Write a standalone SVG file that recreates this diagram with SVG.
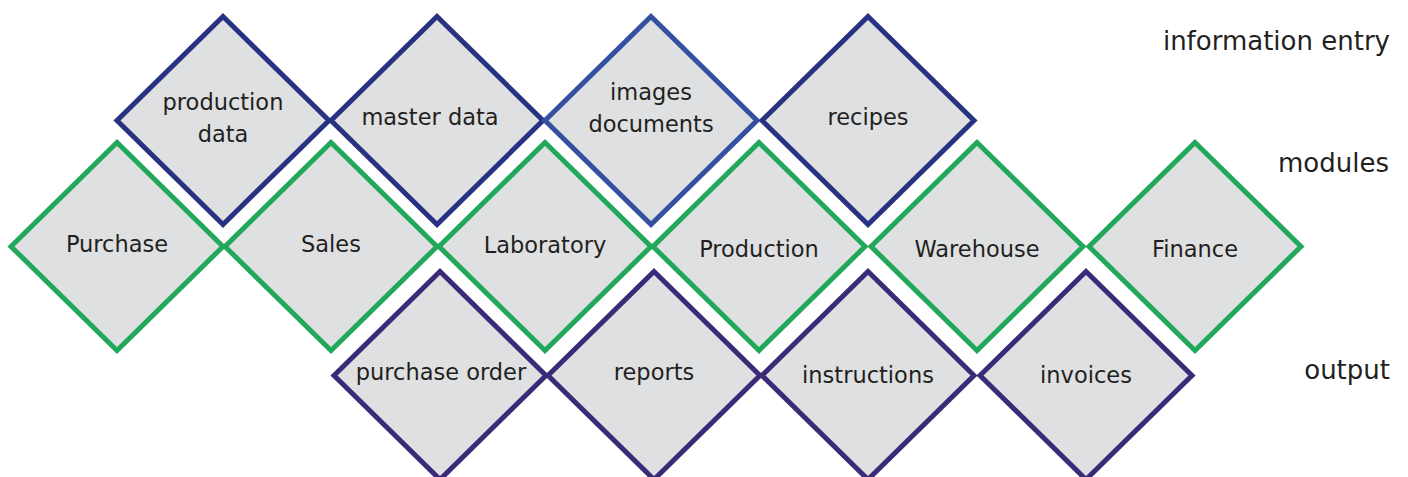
<svg xmlns="http://www.w3.org/2000/svg" width="1408" height="477" viewBox="0 0 1408 477">
<style>
.d{fill:#dfe0e2;stroke-width:5;stroke-linejoin:miter}
.in{stroke:#283282}
.im{stroke:#3550a0}
.mo{stroke:#22a85b}
.ou{stroke:#3b2a78}
text{font-family:"DejaVu Sans","Liberation Sans",sans-serif;fill:#231f20}
.l{font-size:22.5px;text-anchor:middle}
.s{font-size:26px;text-anchor:end}
</style>
<defs>
<polygon id="dia" points="0,-104 106,0 0,104 -106,0"/>
</defs>
<g id="row-labels">
<text class="s" x="1390" y="50">information entry</text>
<text class="s" x="1389" y="172">modules</text>
<text class="s" x="1390" y="379">output</text>
</g>
<g id="n-purchase"><use href="#dia" class="d mo" x="117" y="246.5"/><text class="l" x="117" y="252">Purchase</text></g>
<g id="n-sales"><use href="#dia" class="d mo" x="331" y="246.5"/><text class="l" x="331" y="252">Sales</text></g>
<g id="n-laboratory"><use href="#dia" class="d mo" x="545" y="246.5"/><text class="l" x="545" y="253">Laboratory</text></g>
<g id="n-production"><use href="#dia" class="d mo" x="759" y="246.5"/><text class="l" x="759" y="257">Production</text></g>
<g id="n-warehouse"><use href="#dia" class="d mo" x="977" y="246.5"/><text class="l" x="977" y="257">Warehouse</text></g>
<g id="n-finance"><use href="#dia" class="d mo" x="1195" y="246.5"/><text class="l" x="1195" y="257">Finance</text></g>
<g id="n-production-data"><use href="#dia" class="d in" x="223" y="120.5"/><text class="l" x="223" y="110">production</text><text class="l" x="223" y="142">data</text></g>
<g id="n-master-data"><use href="#dia" class="d in" x="437" y="120.5"/><text class="l" x="430" y="125">master data</text></g>
<g id="n-images-documents"><use href="#dia" class="d im" x="651" y="120.5"/><text class="l" x="651" y="100">images</text><text class="l" x="651" y="132">documents</text></g>
<g id="n-recipes"><use href="#dia" class="d in" x="868" y="120.5"/><text class="l" x="868" y="125">recipes</text></g>
<g id="n-purchase-order"><use href="#dia" class="d ou" x="440" y="375.5"/><text class="l" x="441" y="380">purchase order</text></g>
<g id="n-reports"><use href="#dia" class="d ou" x="654" y="375.5"/><text class="l" x="654" y="380">reports</text></g>
<g id="n-instructions"><use href="#dia" class="d ou" x="868" y="375.5"/><text class="l" x="868" y="383">instructions</text></g>
<g id="n-invoices"><use href="#dia" class="d ou" x="1086" y="375.5"/><text class="l" x="1086" y="383">invoices</text></g>
</svg>
